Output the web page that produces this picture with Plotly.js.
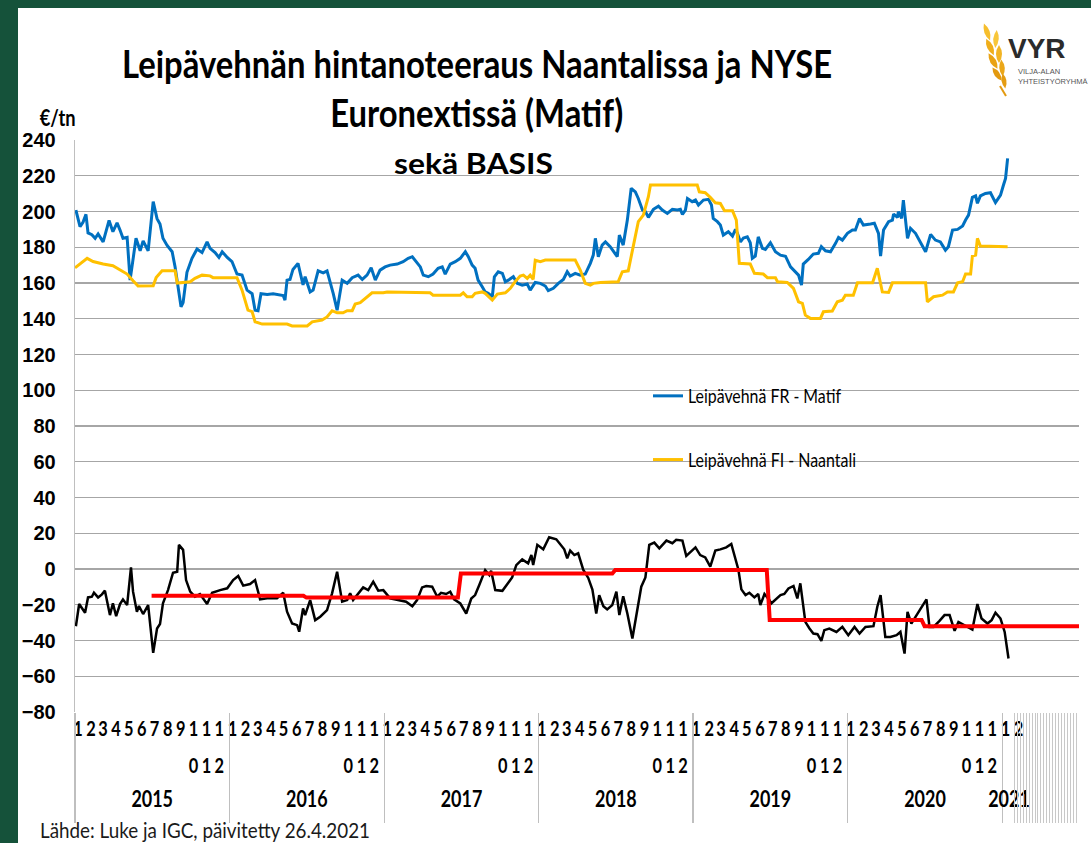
<!DOCTYPE html>
<html>
<head>
<meta charset="utf-8">
<script src="https://cdn.plot.ly/plotly-3.0.1.min.js"></script>
<style>
  html, body { margin: 0; padding: 0; background: #15523A; width: 1091px; height: 843px; overflow: hidden; }
  #chart { position: absolute; left: 18px; top: 8px; width: 1073px; height: 835px; background: #ffffff; }
</style>
</head>
<body>
<div id="chart"></div>
<script>
// ---------------- DATA (x = weeks since 1 Jan 2015) ----------------
const matifWeeks = [
  0.3,1.7,2.7,3.7,4.4,5.7,6.8,7.8,9.5,11.5,
  12.8,14.2,15.2,16.2,17.6,18.6,20.6,22.0,23.0,24.7,
  26.4,27.7,28.7,29.7,31.1,32.8,33.8,34.8,35.8,36.5,
  37.8,39.5,41.2,42.9,44.6,45.6,47.3,48.6,49.7,51.4,
  53.0,54.7,56.4,58.1,59.8,60.8,61.8,62.8,64.9,66.9,
  70.3,70.9,71.6,72.6,73.6,75.3,77.0,77.7,79.4,80.4,
  82.1,83.8,85.1,87.2,88.5,90.2,91.9,93.6,95.6,97.0,
  98.6,100.0,101.4,103.0,104.7,106.4,108.8,110.8,112.5,113.9,
  114.9,116.6,117.6,119.3,120.9,122.6,124.0,125.0,126.7,128.4,
  130.1,131.8,132.8,134.1,135.1,136.1,137.5,138.5,139.5,140.9,
  141.6,142.9,144.3,145.3,146.3,148.0,149.3,151.0,152.7,153.7,
  155.4,157.1,158.8,159.8,161.5,163.2,164.9,166.2,167.2,168.9,
  170.6,172.3,174.0,175.0,175.7,176.7,178.0,179.1,180.7,181.8,
  183.1,183.8,185.1,186.5,187.8,189.2,190.2,191.6,192.6,193.6,
  195.3,197.0,198.3,200.0,201.7,203.4,204.4,205.1,206.1,206.8,
  208.4,209.5,210.5,212.2,213.9,214.9,215.5,216.9,217.9,218.9,
  220.6,222.0,223.0,223.6,224.7,225.7,227.0,228.0,228.7,229.7,
  230.7,232.1,233.1,234.8,236.5,238.2,239.9,241.6,243.2,244.3,
  245.3,245.9,247.6,249.3,251.0,252.0,253.4,255.1,256.8,257.8,
  259.1,260.8,262.5,263.5,264.9,266.2,268.6,269.9,271.3,272.0,
  273.0,274.7,276.0,276.4,277.7,278.0,279.1,279.7,281.1,282.1,
  283.8,285.5,287.2,288.9,290.5,292.2,293.9,294.9,296.3,298.0,
  299.7,300.7,301.7,303.0,304.1,304.7,305.7,307.4,309.1,310.8,
  312.5,313.5,314.2,314.9
];
const matifValues = [
  200.8,191.5,194,198.4,188,187,185,187.4,183,195,
  188.7,193.7,189.6,185,185.5,161.6,185,178,183.6,178,
  205.5,196,193,185,181,177.5,169,158,146.7,149,
  166,173.8,179,177,183,179.4,177,174.3,177.5,174.3,
  172,165,164.4,156,154,144.8,144.5,154,153.6,154,
  153,150.4,161.6,162,167.6,171,159,163.5,155,156,
  166.8,165.7,166.8,154,144.8,161.6,159.8,163,164.4,162,
  164.4,168.5,161.6,167.2,169,170,170.6,171.9,173.8,174.7,
  172.8,169,164.4,163.5,165,168.2,169,165,170.6,171.9,
  173.8,177.5,174.7,170,168.2,161.6,157.9,155,154.2,152.3,
  163.5,166.3,165.4,160.7,161.6,163.5,159.8,158.8,159.4,156,
  160.3,159.8,158.3,155.7,157,159.8,162,166.3,163.9,165.4,
  164.4,165,171,175.6,185,174.7,181.2,183,180.3,177.5,
  174.7,186.8,181.2,195.2,213,211,207.3,200.8,199.9,196.7,
  201.2,203,200.8,198.9,201.2,200.8,201.2,198.4,200.8,207.3,
  205.5,206.4,203.6,206.4,206.8,203.6,196.1,194.3,192.4,186.8,
  188.7,186.3,190,188.1,183,185.2,185.8,182.5,173.8,175,
  185.8,179.4,178.8,182.5,177.5,175.6,175,169,166.3,164.4,
  158.8,170.6,173.2,176.2,176.6,180.3,178,177.5,182.2,185.5,
  184,187.8,189.6,189.6,196.1,192.4,193,193.4,187.8,175,
  189.6,194.3,195.2,198.6,196.7,199.9,196.1,206.4,185,190.6,
  187.8,183,177.5,187.2,184,183,178.4,180.3,189.6,190,
  191.9,195.2,198,207.9,208.7,204.6,208.7,210.1,210.5,205,
  209.2,214.8,218.5,229.7
];

const naantaliWeeks = [
  0.0,4.1,6.1,9.5,12.8,15.2,17.6,19.6,21.3,26.4,
  27.4,29.4,33.8,34.5,38.9,40.5,42.9,45.6,46.6,54.7,
  56.4,58.4,59.8,60.8,63.2,71.6,73.3,78.4,80.1,83.4,
  85.1,86.8,88.5,90.5,91.9,93.6,94.6,96.3,98.6,100.3,
  104.1,105.4,119.9,120.9,130.1,131.1,132.4,134.1,135.1,137.5,
  138.5,140.9,142.6,143.6,145.3,147.0,148.6,150.3,151.4,152.7,
  153.7,154.7,155.4,157.1,158.8,168.9,170.6,172.3,174.0,175.0,
  177.4,183.4,184.8,186.8,188.5,190.2,191.9,193.6,194.3,210.1,
  210.8,212.8,214.5,216.2,217.9,219.3,222.0,223.3,224.3,228.0,
  229.4,232.4,233.8,236.5,237.2,240.5,242.6,244.3,245.6,246.6,
  248.3,251.7,252.7,255.7,257.4,259.1,260.1,262.8,264.2,269.3,
  270.9,272.6,274.7,276.0,287.2,287.8,289.9,292.9,294.6,296.6,
  298.0,299.7,300.7,302.4,303.0,304.1,304.7,305.7,314.9
];
const naantaliValues = [
  168.5,173.8,172,170.6,169.7,167.2,165,161.3,158.3,158.5,
  163,166.8,166.8,160,160.7,162.6,164.4,164,163,163,
  156,144.8,144,138.3,137,137,136,136,138.3,139.3,
  141,144.5,143.3,143.3,144.5,144.5,148.2,149,152.3,154.5,
  154.5,155,154.5,153.2,153.2,154.5,152.3,152.3,154.2,155,
  154.2,150.4,153.8,154.2,154.5,157,160.7,163.9,164.4,162.6,
  164.4,162,172.8,171.9,172.8,172.8,167.2,159.8,158.8,159.8,
  160.3,160.7,166.3,166.8,181.2,194.3,198,208.3,214.8,214.8,
  211,210.5,207.9,204.9,204.5,200.4,200.4,195.2,171,170.6,
  165.4,165,163,163,160.7,160.3,157,149.5,148.6,142,
  140.2,140.2,143.9,144.3,149.5,150.4,153.2,153.2,160.1,160.1,
  168.2,155,154.7,160.1,160.1,149.5,152.3,153.2,155,155,
  160.1,160.7,165,165,175,175.6,185,180.7,180.3
];

const basisWeeks = [
  0.3,1.4,3.4,4.4,5.7,6.4,7.8,9.1,10.1,11.8,
  12.8,13.9,15.2,16.2,17.6,18.9,19.6,20.9,21.6,23.0,
  24.7,26.4,27.7,28.7,29.7,31.4,33.1,34.5,35.1,36.5,
  37.5,38.9,40.5,42.2,44.6,46.3,49.0,51.4,53.4,55.1,
  56.8,59.1,60.8,62.5,64.9,68.2,70.3,71.6,73.3,75.0,
  75.7,77.0,77.7,79.4,81.1,82.8,85.1,86.8,88.5,90.2,
  91.9,92.9,93.9,95.3,97.3,99.0,100.7,102.4,104.1,106.4,
  109.8,111.8,113.9,115.5,117.2,118.6,120.6,122.3,123.6,125.3,
  126.7,128.0,130.1,132.1,133.8,135.1,136.5,138.5,139.9,140.5,
  141.9,144.3,146.3,147.6,149.0,151.0,153.0,154.1,154.7,156.1,
  158.1,160.1,162.5,163.9,165.2,166.2,167.2,168.6,169.9,171.6,
  173.3,174.7,176.0,177.0,178.4,179.7,181.4,182.8,183.8,185.1,
  186.5,188.2,189.9,191.2,192.6,193.9,195.6,197.3,199.7,201.7,
  203.0,205.1,206.4,207.8,209.5,211.1,212.8,214.5,216.2,217.9,
  219.9,221.6,223.0,224.0,225.0,226.4,227.7,229.4,230.7,231.4,
  232.8,234.5,235.1,236.8,238.2,239.5,240.9,242.6,243.9,244.9,
  246.6,248.0,249.3,250.7,252.0,253.0,254.7,257.1,259.1,261.1,
  263.2,264.9,266.9,269.6,270.9,272.0,273.6,275.3,277.4,278.7,
  280.1,281.1,282.4,283.8,285.8,287.5,288.5,289.9,291.9,293.6,
  295.3,297.0,298.3,299.7,301.7,303.0,304.7,306.1,308.1,309.5,
  310.8,312.5,313.9,315.2
];
const basisValues = [
  -32,-19.6,-24.5,-15.9,-15.5,-13.3,-15.9,-14.2,-12.1,-25.8,
  -19.2,-26.4,-19.6,-17,-20.2,0.9,-12.7,-23.9,-20.7,-25.2,
  -20.2,-46.9,-33.3,-30.8,-19.2,-11.8,-2.1,-1.5,13.5,10.7,
  -6.2,-12.7,-15.5,-14,-19.6,-13.3,-11.8,-10.8,-6.2,-3.9,
  -9.3,-8.4,-6.2,-17,-16.4,-16.4,-13.3,-23.9,-30.5,-31.4,
  -35.1,-22,-25.8,-17.4,-28.6,-26.7,-23,-13.6,-1.5,-18.3,
  -17.4,-13.6,-17.4,-14.6,-10.3,-11.8,-7.1,-12.1,-11.8,-16.4,
  -17.4,-18.3,-20.8,-17.4,-10.3,-9.5,-9.9,-15.5,-13.3,-14,
  -12.7,-17,-19.3,-24.9,-16.5,-14.6,-9,-0.6,-3.4,-1,
  -11.8,-12.2,-7.7,-4.7,2.2,5.4,3.2,7.8,2.2,13.5,
  11,17.8,16.6,13.5,11,6,10.3,7.8,8.8,-0.4,
  -5,-11.5,-24.9,-14.6,-20.8,-22.6,-20.2,-12.7,-25.8,-15.2,
  -24.9,-38.9,-23,-9.9,-4.7,13.5,14.8,11.6,15.9,14.4,
  16.3,15.9,7.3,9.7,12.1,7.8,6.5,1.3,10.3,11,
  12.1,14,5.4,-0.4,-11.4,-14.6,-13.3,-15.9,-14,-20.2,
  -14,-17.4,-19.3,-16.5,-14.6,-14,-10.9,-9.5,-16.5,-8,
  -29.6,-33.3,-36.1,-36.5,-40.2,-34.2,-33.3,-35.2,-32.4,-37,
  -32.4,-36.1,-32.4,-32,-21.1,-14.6,-38,-38,-37,-35.2,
  -47.3,-24,-30.5,-26.8,-21.1,-17,-32.4,-32.4,-29,-25.8,
  -25.8,-34.6,-29.6,-30.9,-32.4,-33.9,-19.6,-27.7,-30.5,-28.6,
  -24.5,-27.7,-35.2,-50.1
];

// crop-year (July-June) average basis
const cropYears = [2015, 2016, 2017, 2018, 2019, 2020];
const cropYearBasisAvg = [-15, -16, -2.5, -0.5, -28.5, -32];

const years = [2015, 2016, 2017, 2018, 2019, 2020, 2021];
const seriesNames = ['Leipävehnä FR - Matif', 'Leipävehnä FI - Naantali'];

const titleLines = ['Leipävehnän hintanoteeraus Naantalissa ja NYSE', 'Euronextissä (Matif)', 'sekä BASIS'];
const unitLabel = '€/tn';
const sourceNote = 'Lähde: Luke ja IGC, päivitetty 26.4.2021';

// ---------------- helpers ----------------
const T0 = Date.UTC(2015, 0, 1);
function wk(y, m, d) { return (Date.UTC(y, m - 1, d || 1) - T0) / (7 * 86400000); }
const XR = [0, wk(2021, 7, 1)];
// plot area in page pixels: left 75, right 1079, top 140, bottom 712
function PX(x) { return (x - 75) / 1004; }
function PY(y) { return (712 - y) / 572; }

const LATO = 'Lato, "Open Sans", sans-serif';
const SANS = '"Liberation Sans", Arial, sans-serif';

// month labels (row 1 first digit, row 2 second digit for 10-12), placed in first week of each month
const monthVals = [], monthRow1 = [], row2Vals = [], row2Text = [];
years.forEach(function (y) {
  const last = (y === 2021) ? 2 : 12;
  for (let m = 1; m <= last; m++) {
    const s = String(m);
    const w = wk(y, m, 8);
    monthVals.push(w); monthRow1.push(s[0]);
    if (s.length > 1) { row2Vals.push(w); row2Text.push(s[1]); }
  }
});
const yearStarts = years.map(function (y) { return wk(y, 1, 1); });
const yearCenters = years.map(function (y) {
  return y === 2021 ? (wk(2021, 1, 1) + wk(2021, 2, 1)) / 2 : (wk(y, 1, 1) + wk(y + 1, 1, 1)) / 2;
});
const hatchVals = [];
for (let w = wk(2021, 1, 29); w <= XR[1] + 0.01; w += 1) hatchVals.push(w);

// red step line from crop-year averages
const redX = [], redY = [];
cropYears.forEach(function (y, i) {
  const s = wk(y, 7, 1);
  const e = (i < cropYears.length - 1) ? wk(y + 1, 7, 1) - 1 : XR[1];
  redX.push(s, e); redY.push(cropYearBasisAvg[i], cropYearBasisAvg[i]);
});

// ---------------- traces ----------------
const traces = [
  { type: 'scatter', mode: 'lines', name: seriesNames[0], x: matifWeeks, y: matifValues,
    line: { color: '#0070C0', width: 3 }, legendgroup: 'a', hoverinfo: 'skip' },
  { type: 'scatter', mode: 'lines', name: seriesNames[1], x: naantaliWeeks, y: naantaliValues,
    line: { color: '#FFC000', width: 3 }, legendgroup: 'b', hoverinfo: 'skip' },
  { type: 'scatter', mode: 'lines', name: 'Basis', x: basisWeeks, y: basisValues,
    line: { color: '#000000', width: 2.5 }, showlegend: false, hoverinfo: 'skip' },
  { type: 'scatter', mode: 'lines', name: 'Basis keskiarvo', x: redX, y: redY,
    line: { color: '#FF0000', width: 4 }, showlegend: false, hoverinfo: 'skip' },
  { type: 'scatter', x: [], y: [], xaxis: 'x2', showlegend: false, hoverinfo: 'skip' },
  { type: 'scatter', x: [], y: [], xaxis: 'x3', showlegend: false, hoverinfo: 'skip' },
  { type: 'scatter', x: [], y: [], xaxis: 'x4', showlegend: false, hoverinfo: 'skip' },
  { type: 'scatter', x: [], y: [], xaxis: 'x5', showlegend: false, hoverinfo: 'skip' }
];

const tickFontBold = { family: LATO, size: 21, color: '#000000', weight: 'bold' };
function baseX(extra) {
  return Object.assign({ range: XR, showgrid: false, zeroline: false, showline: false,
    tickmode: 'array', tickangle: 0, fixedrange: true }, extra);
}

// ---------------- wheat logo leaves ----------------
function leafPath(cx, cy, L, W, a) {
  const r = a * Math.PI / 180, ux = Math.sin(r), uy = -Math.cos(r), nx = -uy, ny = ux;
  const t1 = [cx + ux * L / 2, cy + uy * L / 2], t2 = [cx - ux * L / 2, cy - uy * L / 2];
  const c1 = [cx + nx * W, cy + ny * W], c2 = [cx - nx * W, cy - ny * W];
  const f = function (p) { return PX(p[0]) + ',' + PY(p[1]); };
  return 'M' + f(t1) + ' Q' + f(c1) + ' ' + f(t2) + ' Q' + f(c2) + ' ' + f(t1) + ' Z';
}
const leaves = [
  [987, 32, 18, 5.5, -20, '#F6BE2C'], [990, 47, 18, 6, -25, '#F0AE1A'], [993, 61, 18, 6, -30, '#E9A213'],
  [997, 74, 16, 5.5, -35, '#E39A10'], [996, 39, 18, 5.5, 5, '#F8C63A'], [999, 54, 18, 6, 0, '#F2B423'],
  [1002, 68, 17, 5.5, -5, '#EBA719'], [1004, 81, 15, 5, -10, '#E49C12']
];
const shapes = [
  { type: 'rect', xref: 'paper', yref: 'paper', x0: PX(640), x1: PX(922), y0: PY(505), y1: PY(372),
    fillcolor: '#ffffff', line: { width: 0 }, layer: 'between' },
  { type: 'line', xref: 'paper', yref: 'paper', x0: PX(1000), y0: PY(86), x1: PX(1006), y1: PY(96),
    line: { color: '#E39A10', width: 2 } }
];
leaves.forEach(function (l) {
  shapes.push({ type: 'path', xref: 'paper', yref: 'paper', path: leafPath(l[0], l[1], l[2], l[3], l[4]),
    fillcolor: l[5], line: { width: 0 }, layer: 'above' });
});

// ---------------- annotations ----------------
function ann(text, x, y, xanchor, font, align) {
  return { text: text, xref: 'paper', yref: 'paper', x: PX(x), y: PY(y), xanchor: xanchor, yanchor: 'middle',
    align: align || 'center', showarrow: false, font: font };
}
const annotations = [
  ann(titleLines[0], 477, 63, 'center', { family: LATO, size: 38, color: '#000', weight: 'bold' }),
  ann(titleLines[1], 476, 112, 'center', { family: LATO, size: 38, color: '#000', weight: 'bold' }),
  ann(titleLines[2], 473, 162, 'center', { family: LATO, size: 29, color: '#000', weight: 'bold' }),
  ann(unitLabel, 57, 117, 'center', { family: LATO, size: 22, color: '#000', weight: 'bold' }),
  ann(sourceNote, 38, 829, 'left', { family: LATO, size: 22, color: '#1a1a1a' }, 'left'),
  ann('VYR', 1037, 49, 'center', { family: SANS, size: 28, color: '#2b2b2b', weight: 'bold' }),
  ann('VILJA-ALAN', 1016, 72, 'left', { family: SANS, size: 7.5, color: '#555' }, 'left'),
  ann('YHTEISTYÖRYHMÄ', 1016, 82, 'left', { family: SANS, size: 7.5, color: '#555' }, 'left')
];
// target rendered widths (px) of the condensed texts, by annotation index
const annWidths = { 0: 710, 1: 293, 2: 159, 3: 36, 4: 330 };

const layout = {
  width: 1073, height: 835,
  margin: { l: 57, r: 12, t: 132, b: 131, pad: 0 },
  paper_bgcolor: '#ffffff', plot_bgcolor: '#ffffff',
  showlegend: true,
  legend: { x: PX(648), y: PY(377), xanchor: 'left', yanchor: 'top', bgcolor: 'rgba(0,0,0,0)',
    font: { family: LATO, size: 19, color: '#000' }, traceorder: 'grouped', tracegroupgap: 36, itemwidth: 30 },
  xaxis: baseX({ tickvals: monthVals, ticktext: monthRow1, ticks: '', tickfont: tickFontBold, ticklabelstandoff: 2 }),
  xaxis2: baseX({ overlaying: 'x', anchor: 'y', side: 'bottom', tickvals: row2Vals, ticktext: row2Text, ticks: '',
    tickfont: tickFontBold, ticklabelstandoff: 39 }),
  xaxis3: baseX({ overlaying: 'x', anchor: 'y', side: 'bottom', tickvals: yearStarts, ticktext: years.map(String),
    ticks: 'outside', ticklen: 110, tickwidth: 1.3, tickcolor: '#BFBFBF', showticklabels: false }),
  xaxis4: baseX({ overlaying: 'x', anchor: 'y', side: 'bottom', tickvals: yearCenters, ticktext: years.map(String),
    ticks: '', tickfont: { family: LATO, size: 23, color: '#000', weight: 'bold' }, ticklabelstandoff: 71 }),
  xaxis5: baseX({ overlaying: 'x', anchor: 'y', side: 'bottom', tickvals: hatchVals, ticktext: hatchVals.map(function () { return ''; }),
    ticks: 'outside', ticklen: 110, tickwidth: 1, tickcolor: '#C8C8C8', showticklabels: false }),
  yaxis: { range: [-80, 240], dtick: 20, tick0: 0, showgrid: true, gridcolor: '#A6A6A6', gridwidth: 1.3,
    zeroline: false, showline: true, linecolor: '#BFBFBF', linewidth: 1.3, ticks: '', fixedrange: true,
    tickfont: { family: SANS, size: 20, color: '#000', weight: 'bold' }, ticklabelstandoff: 14 },
  shapes: shapes,
  annotations: annotations
};

function squeeze(el, w) {
  el.setAttribute('textLength', w);
  el.setAttribute('lengthAdjust', 'spacingAndGlyphs');
}

Plotly.newPlot('chart', traces, layout, { staticPlot: true, displayModeBar: false }).then(function (gd) {
  // condensed (Calibri-narrow look) texts
  Object.keys(annWidths).forEach(function (i) {
    const t = gd.querySelector('.annotation[data-index="' + i + '"] text.annotation-text');
    if (t) squeeze(t, annWidths[i]);
  });
  const legendWidths = [153, 168];
  gd.querySelectorAll('.legend .traces text.legendtext').forEach(function (t, i) {
    if (legendWidths[i]) squeeze(t, legendWidths[i]);
  });
  ['xtick', 'x2tick', 'x4tick'].forEach(function (cls) {
    gd.querySelectorAll('g.' + cls + ' text').forEach(function (t) {
      const n = t.getComputedTextLength();
      if (n > 0) squeeze(t, n * 0.78);
    });
  });
});
</script>
</body>
</html>
